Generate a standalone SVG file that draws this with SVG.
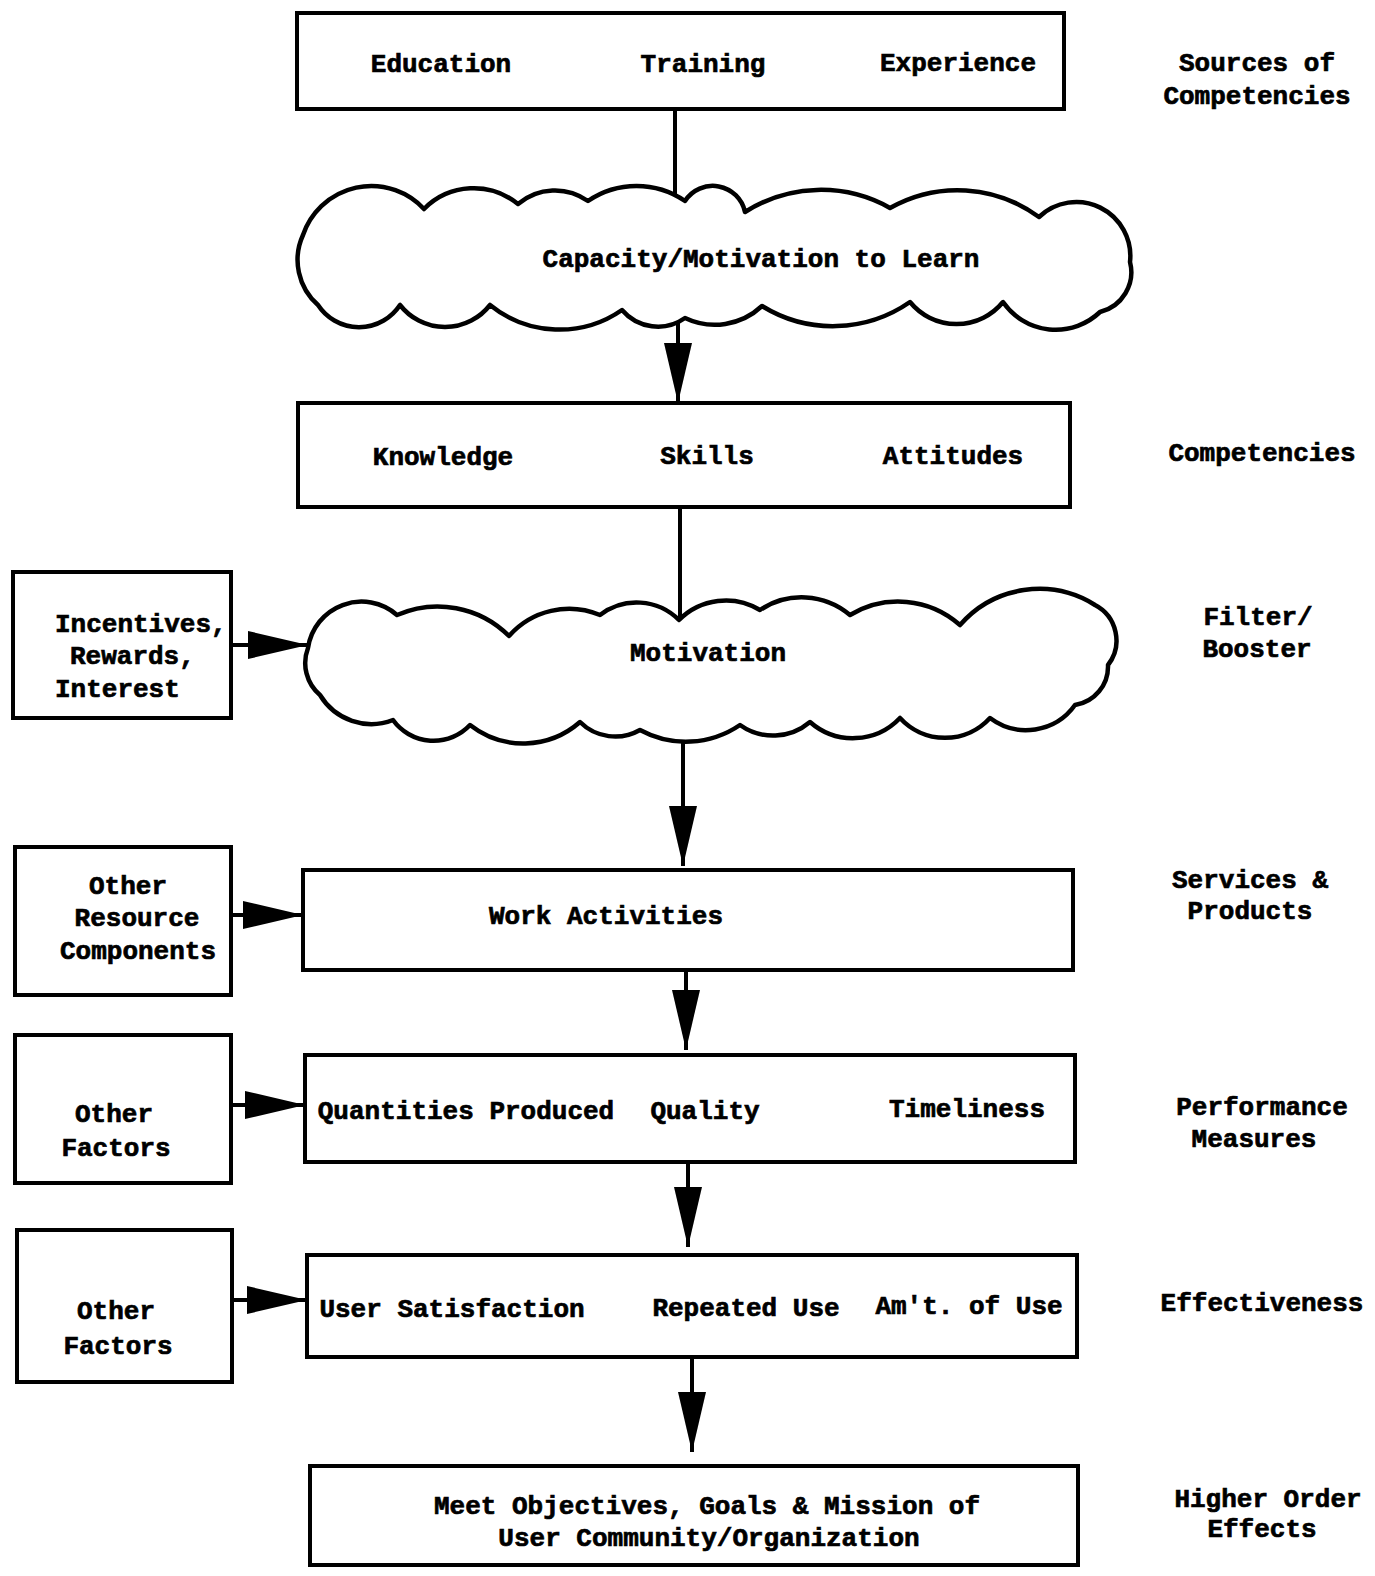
<svg xmlns="http://www.w3.org/2000/svg" width="1375" height="1576" viewBox="0 0 1375 1576">
<style>
.t{font-family:"Liberation Mono","DejaVu Sans Mono",monospace;font-weight:bold;font-size:26px;fill:#000;stroke:#000;stroke-width:0.7;text-anchor:middle}
.s{text-anchor:start}
.box{fill:#fff;stroke:#000;stroke-width:4}
.cloud{fill:#fff;stroke:#000;stroke-width:4.5;stroke-linejoin:round}
.ln{fill:none;stroke:#000;stroke-width:4}
</style>
<defs>
<marker id="ah" markerUnits="userSpaceOnUse" markerWidth="62" markerHeight="30" refX="60" refY="14" orient="auto">
<path d="M0,0 L60,14 L0,28 z" fill="#000"/>
</marker>
</defs>
<rect width="1375" height="1576" fill="#fff"/>
<g id="connectors">
<line class="ln" x1="675" y1="109" x2="675" y2="210"/>
<line class="ln" x1="678" y1="310" x2="678" y2="403" marker-end="url(#ah)"/>
<line class="ln" x1="680" y1="507" x2="680" y2="625"/>
<line class="ln" x1="231" y1="645" x2="308" y2="645" marker-end="url(#ah)"/>
<line class="ln" x1="683" y1="722" x2="683" y2="866" marker-end="url(#ah)"/>
<line class="ln" x1="231" y1="915" x2="303" y2="915" marker-end="url(#ah)"/>
<line class="ln" x1="686" y1="970" x2="686" y2="1050" marker-end="url(#ah)"/>
<line class="ln" x1="231" y1="1105" x2="305" y2="1105" marker-end="url(#ah)"/>
<line class="ln" x1="688" y1="1162" x2="688" y2="1247" marker-end="url(#ah)"/>
<line class="ln" x1="232" y1="1300" x2="307" y2="1300" marker-end="url(#ah)"/>
<line class="ln" x1="692" y1="1357" x2="692" y2="1452" marker-end="url(#ah)"/>
</g>
<g id="sources">
<rect class="box" x="297" y="13" width="767" height="96"/>
<text class="t" x="441" y="72">Education</text>
<text class="t" x="703" y="72">Training</text>
<text class="t" x="958" y="71">Experience</text>
</g>
<g id="capacity">
<path class="cloud" d="M318,305 A60,60 0 0 1 303,235 A72,72 0 0 1 424,209 A70,70 0 0 1 518,204 A57,57 0 0 1 588,201 A86,86 0 0 1 685,201 A33,33 0 0 1 745,212 A141,141 0 0 1 890,208 A137,137 0 0 1 1039,217 A54,54 0 0 1 1130,262 A41,41 0 0 1 1100,312 A64,64 0 0 1 1003,302 A60,60 0 0 1 910,302 A135,135 0 0 1 762,306 A69,69 0 0 1 685,318 A47,47 0 0 1 622,310 A110,110 0 0 1 490,305 A57,57 0 0 1 400,305 A49,49 0 0 1 318,305 Z"/>
<text class="t" x="761" y="267">Capacity/Motivation to Learn</text>
</g>
<g id="competencies">
<rect class="box" x="298" y="403" width="772" height="104"/>
<text class="t" x="443" y="465">Knowledge</text>
<text class="t" x="707" y="464">Skills</text>
<text class="t" x="953" y="464">Attitudes</text>
</g>
<g id="incentives">
<rect class="box" x="13" y="572" width="218" height="146"/>
<text class="t s" x="55" y="632">Incentives,</text>
<text class="t s" x="70" y="664">Rewards,</text>
<text class="t s" x="55" y="697">Interest</text>
</g>
<g id="motivation">
<path class="cloud" d="M320,695 A42,42 0 0 1 308,648 A54,54 0 0 1 397,615 A101,101 0 0 1 509,636 A80,80 0 0 1 600,615 A60,60 0 0 1 679,620 A66,66 0 0 1 760,610 A75,75 0 0 1 850,615 A93,93 0 0 1 960,625 A105,105 0 0 1 1095,605 A40,40 0 0 1 1108,665 A39,39 0 0 1 1075,705 A60,60 0 0 1 990,718 A61,61 0 0 1 900,718 A65,65 0 0 1 810,722 A57,57 0 0 1 740,725 A96,96 0 0 1 640,730 A50,50 0 0 1 580,722 A86,86 0 0 1 470,725 A50,50 0 0 1 393,720 A60,60 0 0 1 320,695 Z"/>
<text class="t" x="708" y="661">Motivation</text>
</g>
<g id="resources">
<rect class="box" x="15" y="847" width="216" height="148"/>
<text class="t" x="128" y="894">Other</text>
<text class="t" x="137" y="926">Resource</text>
<text class="t" x="138" y="959">Components</text>
</g>
<g id="work">
<rect class="box" x="303" y="870" width="770" height="100"/>
<text class="t" x="606" y="924">Work Activities</text>
</g>
<g id="factors1">
<rect class="box" x="15" y="1035" width="216" height="148"/>
<text class="t" x="114" y="1122">Other</text>
<text class="t" x="116" y="1156">Factors</text>
</g>
<g id="performance">
<rect class="box" x="305" y="1055" width="770" height="107"/>
<text class="t" x="466" y="1119">Quantities Produced</text>
<text class="t" x="705" y="1119">Quality</text>
<text class="t" x="967" y="1117">Timeliness</text>
</g>
<g id="factors2">
<rect class="box" x="17" y="1230" width="215" height="152"/>
<text class="t" x="116" y="1319">Other</text>
<text class="t" x="118" y="1354">Factors</text>
</g>
<g id="effectiveness">
<rect class="box" x="307" y="1255" width="770" height="102"/>
<text class="t" x="452" y="1317">User Satisfaction</text>
<text class="t" x="746" y="1316">Repeated Use</text>
<text class="t" x="969" y="1314">Am't. of Use</text>
</g>
<g id="objectives">
<rect class="box" x="310" y="1466" width="768" height="99"/>
<text class="t" x="707" y="1514">Meet Objectives, Goals &amp; Mission of</text>
<text class="t" x="709" y="1546">User Community/Organization</text>
</g>
<g id="labels">
<text class="t" x="1257" y="71">Sources of</text>
<text class="t" x="1257" y="104">Competencies</text>
<text class="t" x="1262" y="461">Competencies</text>
<text class="t" x="1258" y="625">Filter/</text>
<text class="t" x="1257" y="657">Booster</text>
<text class="t" x="1250" y="888">Services &amp;</text>
<text class="t" x="1250" y="919">Products</text>
<text class="t" x="1262" y="1115">Performance</text>
<text class="t" x="1254" y="1147">Measures</text>
<text class="t" x="1262" y="1311">Effectiveness</text>
<text class="t" x="1268" y="1507">Higher Order</text>
<text class="t" x="1262" y="1537">Effects</text>
</g>
</svg>
